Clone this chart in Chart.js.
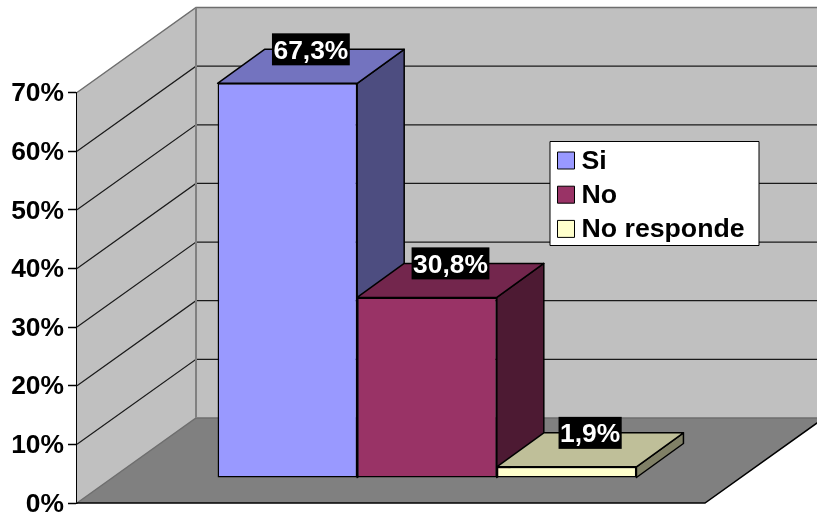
<!DOCTYPE html>
<html>
<head>
<meta charset="utf-8">
<style>html,body{margin:0;padding:0;background:#fff}canvas{display:block}</style>
<script src="https://cdn.jsdelivr.net/npm/chart.js@4"></script>
</head>
<body>
<canvas id="c" width="817" height="518"></canvas>
<script>
const categories = [''];
const seriesNames = ['Si', 'No', 'No responde'];
const seriesValues = [67.3, 30.8, 1.9];
const frontColors = ['#9999FF', '#993366', '#FFFFCC'];
const topColors = ['#7373BF', '#73264D', '#BFBF99'];
const sideColors = ['#4D4D80', '#4D1A33', '#808066'];

const FONT = '"Liberation Sans", Arial, sans-serif';
// Oblique projection of the chart box: full depth of the walls and floor.
const WALL_DX = 119, WALL_DY = -85;
// Where the bars stand inside that depth, and how deep each bar is.
const BAR_SHIFT_X = 36, BAR_SHIFT_Y = -25;
const BAR_DX = 47, BAR_DY = -34;

function poly(ctx, pts, fill, stroke, lw) {
  ctx.beginPath();
  pts.forEach((p, i) => i ? ctx.lineTo(p[0], p[1]) : ctx.moveTo(p[0], p[1]));
  ctx.closePath();
  if (fill) { ctx.fillStyle = fill; ctx.fill(); }
  if (stroke) { ctx.strokeStyle = stroke; ctx.lineWidth = lw; ctx.lineJoin = 'round'; ctx.stroke(); }
}

const box3d = {
  id: 'box3d',
  // nudge the axis labels so they centre optically on their tick marks
  afterUpdate(chart) {
    chart.scales.y.getLabelItems().forEach(item => { item.options.translation[1] += 1.5; });
  },
  beforeDatasetsDraw(chart) {
    const { ctx, chartArea: a, scales: { y }, width } = chart;
    const L = a.left, R = a.right, B = y.getPixelForValue(0), T = y.getPixelForValue(70);
    const bx = L + WALL_DX;

    // walls and floor
    poly(ctx, [[L, B], [L, T], [bx, T + WALL_DY], [width + 10, T + WALL_DY], [width + 10, B + WALL_DY], [bx, B + WALL_DY]], '#C0C0C0');
    poly(ctx, [[L, B], [bx, B + WALL_DY], [R + WALL_DX, B + WALL_DY], [R, B]], '#808080');

    // gridlines run along the side wall, then across the back wall
    y.ticks.forEach(t => {
      const py = y.getPixelForValue(t.value);
      ctx.beginPath();
      ctx.moveTo(L, py); ctx.lineTo(bx, py + WALL_DY); ctx.lineTo(width + 10, py + WALL_DY);
      const edge = t.value === 0 || t.value === 70;
      ctx.strokeStyle = edge ? '#6e6e6e' : '#1a1a1a';
      ctx.lineWidth = edge ? 1.5 : 1.2;
      ctx.stroke();
    });
    // corner between side wall and back wall
    ctx.beginPath(); ctx.moveTo(bx, T + WALL_DY); ctx.lineTo(bx, B + WALL_DY);
    ctx.strokeStyle = '#808080'; ctx.lineWidth = 2; ctx.stroke();

    // floor front edge and right edge
    ctx.beginPath(); ctx.moveTo(L, B); ctx.lineTo(R, B); ctx.lineTo(R + WALL_DX, B + WALL_DY);
    ctx.strokeStyle = '#000'; ctx.lineWidth = 1.5; ctx.stroke();

    // top and side faces of each bar
    chart.data.datasets.forEach((d, i) => {
      const el = chart.getDatasetMeta(i).data[0];
      const l = el.x - el.width / 2 + BAR_SHIFT_X, r = el.x + el.width / 2 + BAR_SHIFT_X;
      const t = el.y + BAR_SHIFT_Y, b = el.base + BAR_SHIFT_Y;
      poly(ctx, [[r, t], [r + BAR_DX, t + BAR_DY], [r + BAR_DX, b + BAR_DY], [r, b]], sideColors[i], '#000', 1.5);
      poly(ctx, [[l, t], [l + BAR_DX, t + BAR_DY], [r + BAR_DX, t + BAR_DY], [r, t]], topColors[i], '#000', 1.5);
    });

    // front faces are drawn by the library, moved into the box
    ctx.save();
    ctx.translate(BAR_SHIFT_X, BAR_SHIFT_Y);
  },
  afterDatasetsDraw(chart) {
    const { ctx } = chart;
    ctx.restore();

    // value labels sit on the back edge of each bar's top face
    ctx.font = 'bold 26.4px ' + FONT;
    ctx.textAlign = 'center';
    ctx.textBaseline = 'alphabetic';
    chart.data.datasets.forEach((d, i) => {
      const el = chart.getDatasetMeta(i).data[0];
      const cx = el.x + BAR_SHIFT_X + BAR_DX / 2;
      const cy = el.y + BAR_SHIFT_Y + BAR_DY;
      const text = d.data[0].toFixed(1).replace('.', ',') + '%';
      const w = ctx.measureText(text).width + 3;
      ctx.fillStyle = '#000';
      ctx.fillRect(cx - w / 2, cy - 16, w, 32);
      ctx.fillStyle = '#fff';
      ctx.fillText(text, cx, cy + 9.5);
    });

    // legend panel
    const lx = 550, ly = 141.5, lw = 209, lh = 104;
    ctx.fillStyle = '#fff';
    ctx.fillRect(lx, ly, lw, lh);
    ctx.strokeStyle = '#000'; ctx.lineWidth = 1;
    ctx.strokeRect(lx, ly, lw, lh);
    ctx.font = 'bold 26.7px ' + FONT;
    ctx.textAlign = 'left';
    chart.data.datasets.forEach((d, i) => {
      const top = 152 + i * 34.2;
      ctx.fillStyle = frontColors[i];
      ctx.fillRect(557.5, top, 17, 17);
      ctx.strokeStyle = '#000'; ctx.lineWidth = 1;
      ctx.strokeRect(557.5, top, 17, 17);
      ctx.fillStyle = '#000';
      ctx.fillText(d.label, 581.5, top + 17);
    });
  }
};

new Chart(document.getElementById('c'), {
  type: 'bar',
  data: {
    labels: categories,
    datasets: seriesNames.map((name, i) => ({
      label: name,
      data: [seriesValues[i]],
      backgroundColor: frontColors[i],
      borderColor: '#000',
      borderWidth: 1.5,
      borderSkipped: false,
      barPercentage: 1,
      categoryPercentage: 0.667
    }))
  },
  plugins: [box3d],
  options: {
    responsive: false,
    animation: false,
    layout: { padding: { top: 92.5, bottom: 15, right: 112, left: 0 } },
    plugins: { legend: { display: false }, tooltip: { enabled: false }, title: { display: false } },
    scales: {
      x: { display: false },
      y: {
        min: 0, max: 70,
        afterFit(s) { s.width = 77; s.paddingTop = 0; s.paddingBottom = 0; },
        border: { display: true, color: '#000', width: 1.5 },
        grid: { drawOnChartArea: false, drawTicks: true, tickLength: 9, tickColor: '#000', tickWidth: 1.5 },
        ticks: {
          stepSize: 10, padding: 4, color: '#000',
          font: { family: FONT, size: 26.4, weight: 'bold' },
          callback: v => v + '%'
        }
      }
    }
  }
});
</script>
</body>
</html>
